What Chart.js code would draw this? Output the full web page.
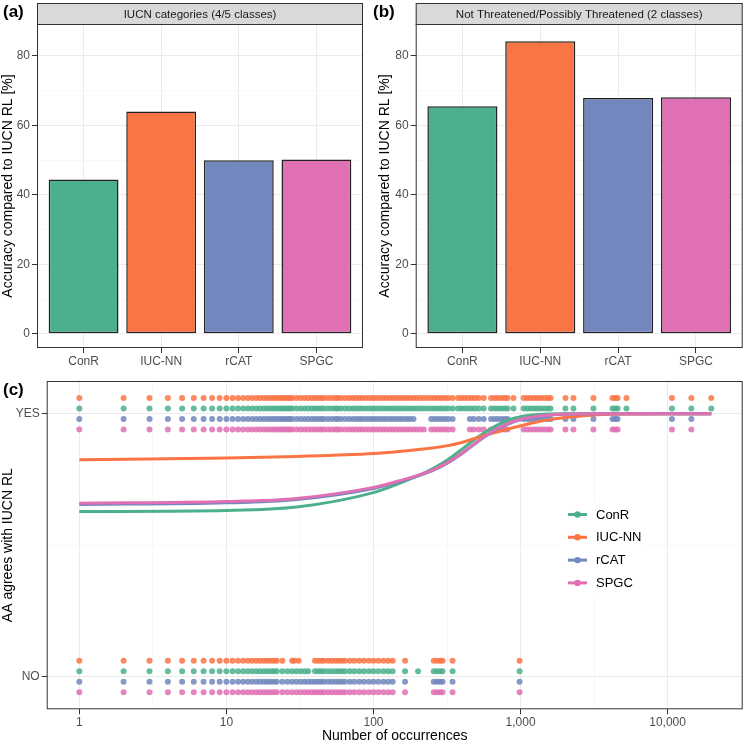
<!DOCTYPE html>
<html>
<head>
<meta charset="utf-8">
<script src="https://cdn.jsdelivr.net/npm/chart.js@4.4.1/dist/chart.umd.min.js"></script>
<style>
body{margin:0;background:#fff}
#wrap{position:relative;width:747px;height:750px;background:#fff}
canvas{position:absolute}
</style>
</head>
<body>
<div id="wrap">
<canvas id="barsA" width="370" height="370" style="left:0;top:0"></canvas>
<canvas id="barsB" width="377" height="370" style="left:370px;top:0"></canvas>
<canvas id="agree" width="747" height="380" style="left:0;top:370px"></canvas>
</div>
<script>
"use strict"

// methods, in plot order
var categories = ['ConR','IUC-NN','rCAT','SPGC']
var colors = ['#4bb08b','#fb7444','#7287bd','#e070b4']
var pointColors = ['rgba(75,176,139,0.85)','rgba(251,116,68,0.85)','rgba(114,135,189,0.85)','rgba(224,112,180,0.85)']

// (a) and (b) accuracy [%]
var accuracyFive = [44.4, 64.0, 50.0, 50.2]
var accuracyTwo = [65.5, 84.2, 67.9, 68.1]
var accuracyTicks = [0,10,20,30,40,50,60,70,80]

// (c) occurrences of species where AA agrees (YES) / disagrees (NO)
var yesConR = [1,2,3,4,5,6,7,8,9,10,11,12,13,14,15,16,17,18,19,20,21,22,23,24,25,26,27,28,30,32,34,36,38,40,42,44,46,49,52,55,57,60,64,68,72,76,80,84,89,94,99,104,110,116,122,129,136,143,151,159,168,177,187,197,208,220,233,247,260,274,289,305,322,345,376,396,418,441,465,490,520,562,630,665,700,740,780,815,895,1050,1110,1170,1235,1300,1370,1450,1530,1600,2020,2290,3130,4220,4400,4570,5250,10700,14500,19800]
var yesIucnn = [1,2,3,4,5,6,7,8,9,10,11,12,13,14,15,16,17,18,19,20,21,22,23,24,25,26,27,28,30,32,34,36,38,40,42,44,46,49,52,55,57,60,64,68,72,76,80,84,89,94,99,104,110,116,122,129,136,143,151,159,168,177,187,197,208,220,233,247,260,274,289,305,322,345,376,396,418,441,465,490,520,562,630,665,700,740,780,815,895,1050,1110,1170,1235,1300,1370,1450,1530,1600,2020,2290,3130,4220,4400,4570,5250,10700,14500,19800]
var yesRcat = [1,2,3,4,5,6,7,8,9,10,11,12,13,14,15,16,17,18,19,20,21,22,23,24,25,26,27,28,30,32,34,36,38,40,42,44,46,49,52,55,57,60,64,68,72,76,80,84,89,94,99,104,110,116,122,129,136,143,151,159,168,177,187,247,260,274,289,305,322,345,452,480,520,562,630,665,700,740,780,815,1050,1110,1170,1235,1300,1370,1450,1530,1600,2020,2290,3130,4220,4400,4570,10700,14500]
var yesSpgc = [1,2,3,4,5,6,7,8,9,10,11,12,13,14,15,16,17,18,19,20,21,22,23,24,25,26,27,28,30,32,34,36,38,40,42,44,46,49,52,55,57,60,64,68,72,76,80,84,89,94,99,104,110,116,122,129,136,143,151,159,168,177,187,197,208,220,247,260,274,289,305,322,345,452,480,520,562,630,665,700,740,780,815,1050,1110,1170,1235,1300,1370,1450,1530,1600,2020,2290,3130,4220,4400,4570,10700,14500]
var noConR = [1,2,3,4,5,6,7,8,9,10,11,12,13,14,15,16,17,18,19,20,21,22,24,26,28,30,32,34,36,40,42,44,46,49,52,55,58,61,64,69,74,80,86,93,100,108,117,126,135,164,201,257,270,283,295,345,985]
var noIucnn = [1,2,3,4,5,6,7,8,9,10,11,12,13,14,15,16,17,18,19,20,21,22,24,28,29,31,40,42,44,46,49,52,55,58,61,64,69,74,80,86,93,100,108,117,126,135,164,257,270,283,295,345,985]
var noRcat = [1,2,3,4,5,6,7,8,9,10,11,12,13,14,15,16,17,18,19,20,21,22,24,26,28,30,32,34,36,38,40,42,44,46,49,52,55,58,61,64,69,74,80,86,93,100,108,117,126,135,164,257,270,283,295,345,985]
var noSpgc = [1,2,3,4,5,6,7,8,9,10,11,12,13,14,15,16,17,18,19,20,21,22,24,26,28,30,32,34,36,38,40,42,44,46,49,52,55,58,61,64,69,74,80,86,93,100,108,117,126,135,164,257,270,283,295,345,985]

// fitted agreement curves (0 = NO, 1 = YES)
var curveX = [1,10,30,100,150,250,320,410,540,700,900,1200,1500,2000,3000,5000,10000,19800]
var fitConR = [0.628,0.632,0.645,0.700,0.735,0.790,0.825,0.870,0.920,0.958,0.983,0.996,0.999,1,1,1,1,1]
var fitIucnn = [0.825,0.832,0.838,0.849,0.857,0.870,0.879,0.893,0.914,0.932,0.948,0.965,0.976,0.986,0.995,0.999,1,1]
var fitRcat = [0.655,0.661,0.674,0.716,0.742,0.783,0.813,0.853,0.903,0.943,0.970,0.987,0.994,0.998,1,1,1,1]
var fitSpgc = [0.660,0.666,0.678,0.720,0.745,0.785,0.815,0.855,0.905,0.945,0.972,0.988,0.995,0.999,1,1,1,1]

var occTicks = [1,10,100,1000,10000]
var occLabels = ['1','10','100','1,000','10,000']
var occMinor = [3.162,31.62,316.2,3162,31623]
var agreeTicks = [0,0.5,1]
var agreeLabels = {0:'NO',1:'YES'}

var yesLists = [yesConR,yesIucnn,yesRcat,yesSpgc]
var noLists = [noConR,noIucnn,noRcat,noSpgc]
var fits = [fitConR,fitIucnn,fitRcat,fitSpgc]
var dodge = [0.02,0.06,-0.02,-0.06]

var FONT = '"Liberation Sans", Arial, Helvetica, sans-serif'
Chart.defaults.font.family = FONT
Chart.defaults.color = '#4d4d4d'

var GRID = '#ebebeb', GRID_MINOR = '#f3f3f3', DARK = '#333333'

var panelDecor = {
	id: 'panelDecor',
	afterDraw: function(chart, args, opts){
		var ctx = chart.ctx, a = chart.chartArea
		ctx.save()
		ctx.strokeStyle = DARK
		ctx.lineWidth = 1
		ctx.strokeRect(a.left+0.5, a.top+0.5, a.right-a.left-1, a.bottom-a.top-1)
		if (opts.strip){
			ctx.fillStyle = '#d9d9d9'
			ctx.fillRect(a.left, 3, a.right-a.left, a.top-3)
			ctx.strokeRect(a.left+0.5, 3.5, a.right-a.left-1, a.top-3)
			ctx.fillStyle = '#1a1a1a'
			ctx.font = '11.5px '+FONT
			ctx.textAlign = 'center'
			ctx.textBaseline = 'middle'
			ctx.fillText(opts.strip, (a.left+a.right)/2, (3+a.top)/2+1)
		}
		ctx.fillStyle = '#000'
		ctx.font = 'bold 17px '+FONT
		ctx.textAlign = 'left'
		ctx.textBaseline = 'middle'
		ctx.fillText(opts.tag, opts.tagX, opts.tagY)
		ctx.restore()
	}
}

var legendInside = {
	id: 'legendInside',
	afterDraw: function(chart, args, opts){
		if (!opts.show) return
		var ctx = chart.ctx
		ctx.save()
		ctx.fillStyle = '#fff'
		ctx.fillRect(opts.x-8, opts.y-12, 86, 96)
		categories.forEach(function(name,i){
			var y = opts.y + i*opts.gap
			ctx.strokeStyle = colors[i]
			ctx.lineWidth = 3
			ctx.beginPath()
			ctx.moveTo(opts.x, y)
			ctx.lineTo(opts.x+19, y)
			ctx.stroke()
			ctx.fillStyle = colors[i]
			ctx.beginPath()
			ctx.arc(opts.x+9.5, y, 3.2, 0, Math.PI*2)
			ctx.fill()
			ctx.fillStyle = '#000'
			ctx.font = '13px '+FONT
			ctx.textAlign = 'left'
			ctx.textBaseline = 'middle'
			ctx.fillText(name, opts.x+28, y+0.5)
		})
		ctx.restore()
	}
}

function isMinor(ctx, majors){
	return ctx.tick && majors.indexOf(ctx.tick.value) < 0
}

function barChart(id, values, tag, strip, axisWidth, titlePad, padRight){
	var majors = [0,20,40,60,80]
	return new Chart(document.getElementById(id), {
		type: 'bar',
		data: {
			datasets: [{
				data: values.map(function(v,i){ return {x:i+1, y:v} }),
				backgroundColor: colors,
				borderColor: '#222',
				borderWidth: 1.5,
				borderSkipped: false,
				barPercentage: 0.9,
				categoryPercentage: 1
			}]
		},
		options: {
			responsive: false, animation: false, devicePixelRatio: 1, events: [],
			layout: {padding: {top:24, right:padRight, left:0, bottom:0}},
			plugins: {
				legend: {display:false}, tooltip: {enabled:false},
				panelDecor: {tag:tag, strip:strip, tagX:3, tagY:12},
				legendInside: {show:false}
			},
			scales: {
				x: {
					type: 'linear', min: 0.4, max: 4.6, offset: false,
					afterBuildTicks: function(s){ s.ticks = categories.map(function(c,i){ return {value:i+1} }) },
					afterFit: function(s){ s.height = 22 },
					ticks: {callback: function(v){ return categories[v-1] }, color:'#4d4d4d', font:{size:12}, padding:1, maxRotation:0, autoSkip:false},
					grid: {offset:false, color:GRID, lineWidth:1, tickLength:5, tickColor:DARK},
					border: {display:false}
				},
				y: {
					min: -4.1, max: 89.2,
					afterBuildTicks: function(s){ s.ticks = accuracyTicks.map(function(v){ return {value:v} }) },
					afterFit: function(s){ s.width = axisWidth },
					ticks: {callback: function(v){ return majors.indexOf(v) < 0 ? '' : String(v) }, color:'#4d4d4d', font:{size:12}, padding:2, autoSkip:false},
					grid: {
						color: function(c){ return isMinor(c, majors) ? GRID_MINOR : GRID },
						lineWidth: function(c){ return isMinor(c, majors) ? 0.6 : 1 },
						tickLength: 5,
						tickColor: function(c){ return isMinor(c, majors) ? 'rgba(0,0,0,0)' : DARK }
					},
					border: {display:false},
					title: {display:true, text:'Accuracy compared to IUCN RL [%]', color:'#000', font:{size:14}, padding:{top:titlePad, bottom:0}}
				}
			}
		},
		plugins: [panelDecor, legendInside]
	})
}

barChart('barsA', accuracyFive, '(a)', 'IUCN categories (4/5 classes)', 37, 0, 7)
barChart('barsB', accuracyTwo, '(b)', 'Not Threatened/Possibly Threatened (2 classes)', 45.7, 6.5, 4.3)

var agreeSets = []
categories.forEach(function(name,i){
	var pts = yesLists[i].map(function(x){ return {x:x, y:1+dodge[i]} })
		.concat(noLists[i].map(function(x){ return {x:x, y:0+dodge[i]} }))
	agreeSets.push({
		label: name, data: pts, showLine: false,
		pointRadius: 3, pointBorderWidth: 0,
		pointBackgroundColor: pointColors[i], pointBorderColor: pointColors[i],
		order: 10
	})
})
categories.forEach(function(name,i){
	agreeSets.push({
		type: 'line', label: name+' fit',
		data: curveX.map(function(x,k){ return {x:x, y:fits[i][k]} }),
		borderColor: colors[i], borderWidth: 3, pointRadius: 0,
		cubicInterpolationMode: 'monotone', fill: false,
		order: 4-i
	})
})

new Chart(document.getElementById('agree'), {
	type: 'scatter',
	data: {datasets: agreeSets},
	options: {
		responsive: false, animation: false, devicePixelRatio: 1, events: [],
		layout: {padding: {top:11, right:4.3, left:0, bottom:0}},
		plugins: {
			legend: {display:false}, tooltip: {enabled:false},
			panelDecor: {tag:'(c)', strip:null, tagX:3, tagY:20},
			legendInside: {show:true, x:568, y:144.5, gap:22.8}
		},
		scales: {
			x: {
				type: 'logarithmic', min: 0.616, max: 32400,
				afterBuildTicks: function(s){ s.ticks = occTicks.concat(occMinor).sort(function(a,b){ return a-b }).map(function(v){ return {value:v} }) },
				afterFit: function(s){ s.height = 40.7 },
				ticks: {callback: function(v){ var k = occTicks.indexOf(v); return k < 0 ? '' : occLabels[k] }, color:'#4d4d4d', font:{size:12}, padding:1, maxRotation:0, autoSkip:false},
				grid: {
					color: function(c){ return isMinor(c, occTicks) ? GRID_MINOR : GRID },
					lineWidth: function(c){ return isMinor(c, occTicks) ? 0.6 : 1 },
					tickLength: 5,
					tickColor: function(c){ return isMinor(c, occTicks) ? 'rgba(0,0,0,0)' : DARK }
				},
				border: {display:false},
				title: {display:true, text:'Number of occurrences', color:'#000', font:{size:14}, padding:{top:0, bottom:5}}
			},
			y: {
				min: -0.125, max: 1.125,
				afterBuildTicks: function(s){ s.ticks = agreeTicks.map(function(v){ return {value:v} }) },
				afterFit: function(s){ s.width = 46.7 },
				ticks: {callback: function(v){ return agreeLabels[v] || '' }, color:'#4d4d4d', font:{size:12}, padding:2, autoSkip:false},
				grid: {
					color: function(c){ return isMinor(c, [0,1]) ? GRID_MINOR : GRID },
					lineWidth: function(c){ return isMinor(c, [0,1]) ? 0.6 : 1 },
					tickLength: 5,
					tickColor: function(c){ return isMinor(c, [0,1]) ? 'rgba(0,0,0,0)' : DARK }
				},
				border: {display:false},
				title: {display:true, text:'AA agrees with IUCN RL', color:'#000', font:{size:14}, padding:{top:0, bottom:0}}
			}
		}
	},
	plugins: [panelDecor, legendInside]
})
</script>
</body>
</html>
